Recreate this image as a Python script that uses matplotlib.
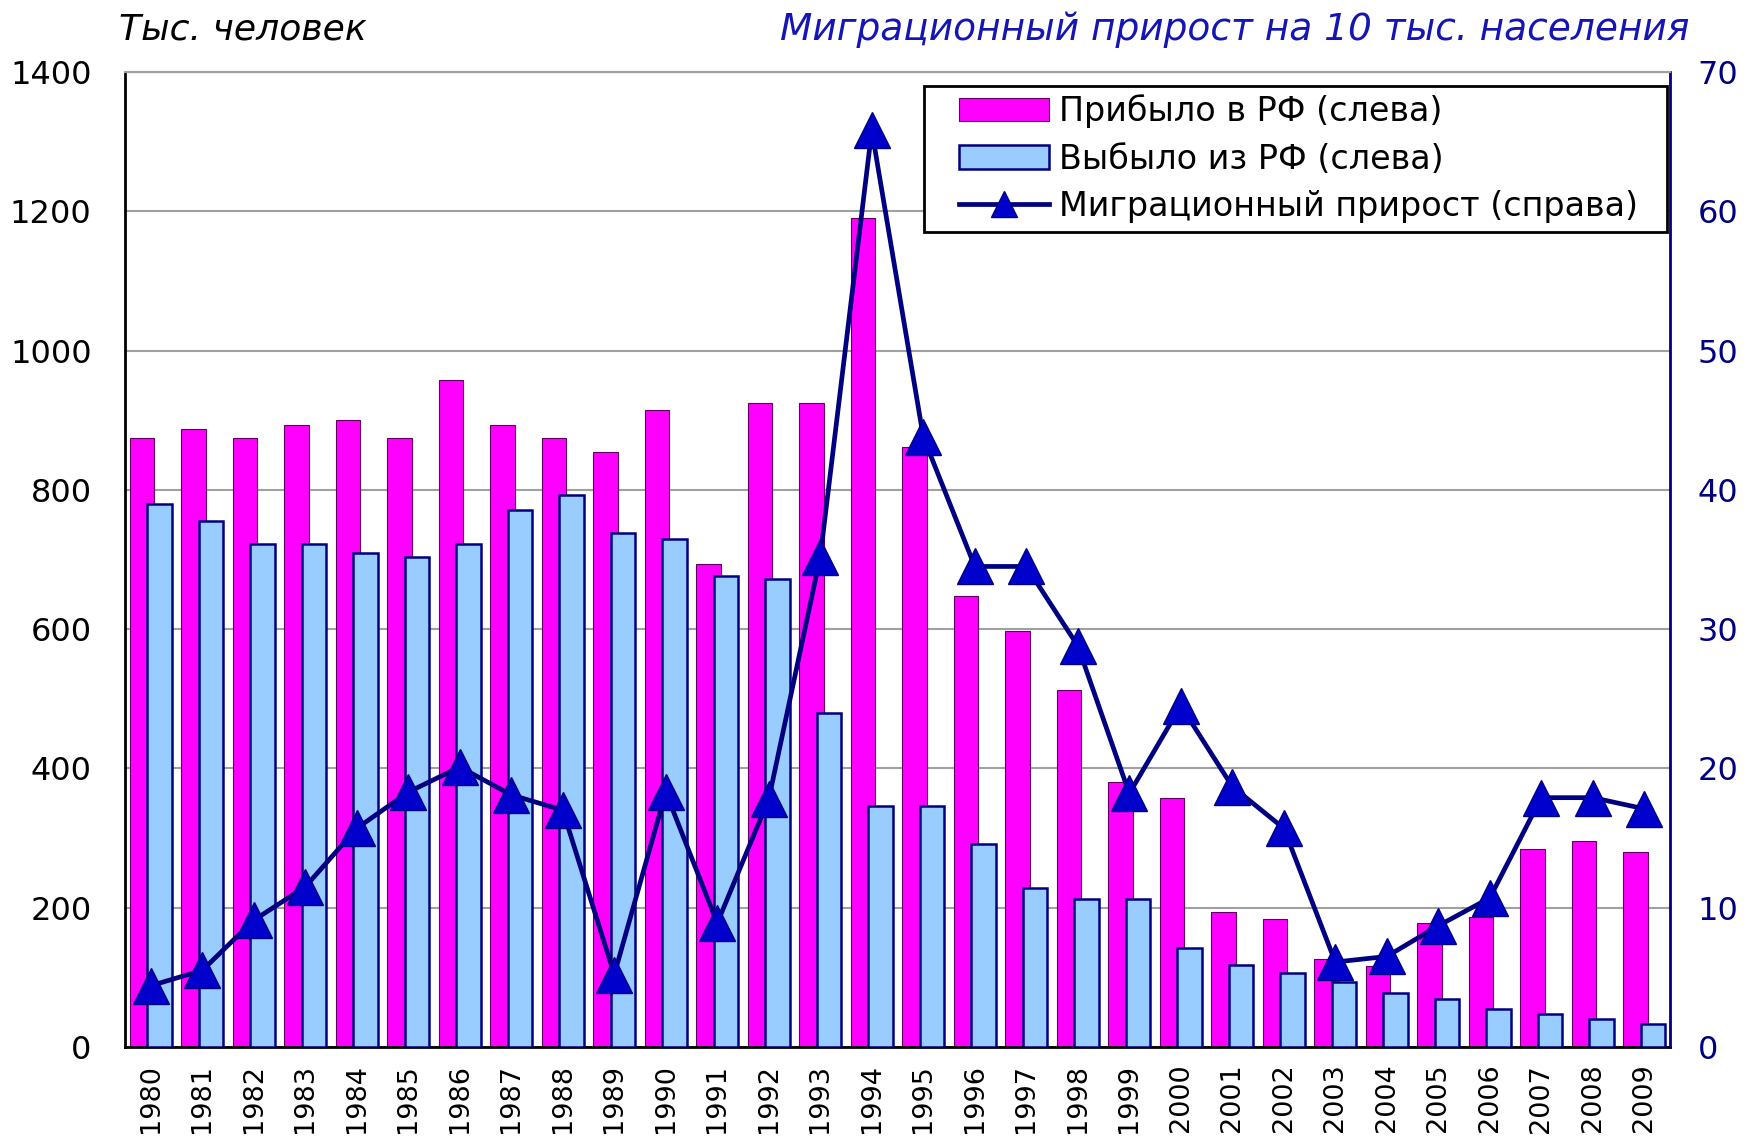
import matplotlib
matplotlib.use("Agg")
from matplotlib import pyplot as plt
from matplotlib.patches import Rectangle
import numpy as np

plt.rcParams['font.family'] = ['DejaVu Sans']

years = [str(y) for y in range(1980, 2010)]

# Прибыло в РФ, тыс. человек
arrived = [875, 888, 875, 893, 901, 875, 958, 893, 875, 854,
           914, 693, 925, 925, 1190, 862, 648, 598, 512, 381,
           358, 194, 184, 127, 117, 178, 186, 285, 296, 280]
# Выбыло из РФ, тыс. человек
departed = [779, 755, 722, 722, 709, 704, 722, 771, 792, 738,
            730, 677, 672, 480, 346, 346, 291, 229, 213, 213,
            142, 118, 106, 93, 77, 69, 54, 47, 40, 33]
# Миграционный прирост на 10 тыс. населения
growth = [4.4, 5.5, 9.1, 11.5, 15.7, 18.3, 20.1, 18.1, 17.0, 5.2,
          18.3, 8.9, 17.8, 35.2, 65.8, 43.8, 34.5, 34.5, 28.8, 18.2,
          24.5, 18.7, 15.7, 6.1, 6.5, 8.7, 10.7, 17.9, 17.9, 17.1]

navy = '#000080'
x = np.arange(len(years))

fig = plt.figure(figsize=(17.46, 11.41), dpi=100)
ax = fig.add_axes([0.0716, 0.0824, 0.8849, 0.8545])
ax2 = ax.twinx()

w = 0.48
ax.bar(x - 0.17, arrived, width=w, color='#FF00FF', edgecolor='#600060',
       linewidth=0.8, label='Прибыло в РФ (слева)', zorder=2)
ax.bar(x + 0.17, departed, width=w, color='#99CCFF', edgecolor=navy,
       linewidth=1.8, label='Выбыло из РФ (слева)', zorder=3)

ax2.plot(x, growth, color=navy, linewidth=3.4, marker='^', markersize=26,
         markerfacecolor='#0000CC', markeredgecolor=navy, markeredgewidth=1,
         label='Миграционный прирост (справа)', zorder=4)

ax.set_xlim(-0.5, len(years) - 0.5)
ax.set_ylim(0, 1400)
ax.set_yticks(range(0, 1401, 200))
ax2.set_ylim(0, 70)
ax2.set_yticks(range(0, 71, 10))

ax.yaxis.grid(True, color='#A0A0A0', linewidth=1.5, zorder=0)
ax.set_axisbelow(True)

ax.set_xticks(x)
ax.set_xticklabels(years, rotation=90, fontsize=19.5)
ax.tick_params(axis='x', length=0, pad=12)
ax.tick_params(axis='y', length=0, pad=24, labelsize=23)
ax2.tick_params(axis='y', length=0, pad=20, labelsize=23, labelcolor=navy)

for a in (ax, ax2):
    a.spines['top'].set_color('#A0A0A0')
    a.spines['top'].set_linewidth(1.5)
ax.spines['left'].set_color('black')
ax.spines['left'].set_linewidth(2)
ax.spines['bottom'].set_linewidth(2)
ax2.spines['right'].set_color(navy)
ax2.spines['right'].set_linewidth(2)
ax2.spines['left'].set_visible(False)
ax2.spines['bottom'].set_visible(False)

fig.text(119 / 1746, 1 - 40 / 1141, 'Тыс. человек', fontsize=26,
         style='italic', ha='left', va='baseline')
fig.text(1689 / 1746, 1 - 40 / 1141, 'Миграционный прирост на 10 тыс. населения',
         fontsize=27, style='italic', color='#1515B5', ha='right', va='baseline')

# legend box
ax2.add_patch(Rectangle((0.517, 0.836), 0.481, 0.150, transform=ax2.transAxes,
                        facecolor='white', edgecolor='black', linewidth=2,
                        zorder=5, clip_on=False))
h1, l1 = ax.get_legend_handles_labels()
h2, l2 = ax2.get_legend_handles_labels()
leg = ax2.legend(h1 + h2, l1 + l2, loc='upper left', bbox_to_anchor=(0.540, 0.977),
                 borderaxespad=0, borderpad=0, fontsize=24, frameon=False,
                 handlelength=2.7, handletextpad=0.3, labelspacing=0.43,
                 markerscale=0.7)
leg.set_zorder(6)

fig.savefig('out.png', dpi=100)
